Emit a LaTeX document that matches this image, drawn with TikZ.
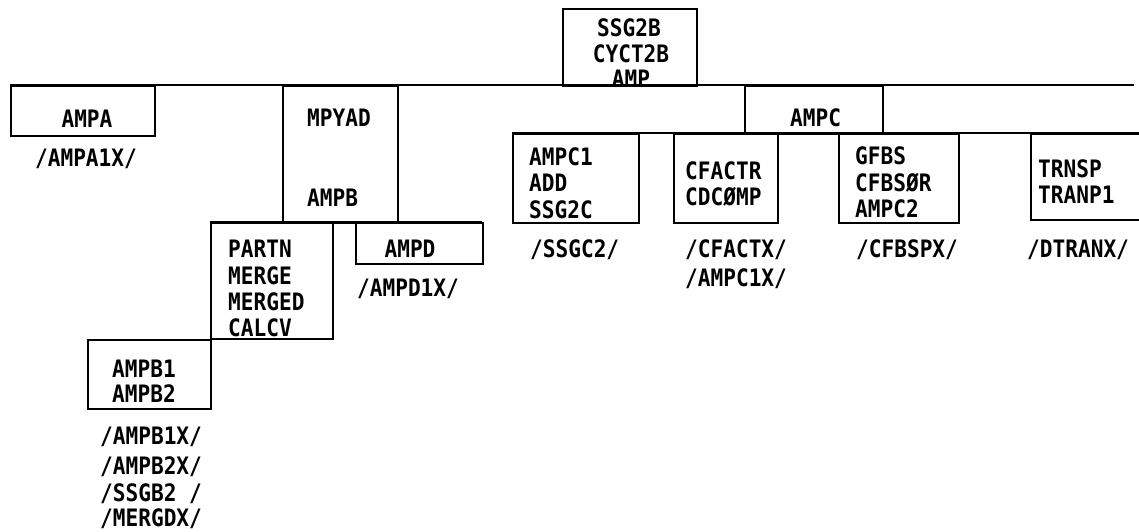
\documentclass[tikz,border=0pt]{standalone}
\usepackage{fontspec}
\setmonofont[FakeStretch=0.88]{DejaVu Sans Mono}
\begin{document}
\begin{tikzpicture}[x=1pt,y=-1pt,
  box/.style={draw, line width=2.3pt, inner sep=0pt, anchor=north west},
  bus/.style={line width=2.3pt},
  lbl/.style={inner sep=0pt, font=\ttfamily\bfseries\fontsize{24}{26}\selectfont},
  lw/.style={lbl, anchor=base west},
  lc/.style={lbl, anchor=base}]
\useasboundingbox (0,0) rectangle (1139,531);
% buses
\coordinate (busL) at (10,85);
\coordinate (busR) at (1134,85);
\draw[bus] (busL) -- (busR);
\coordinate (cbusL) at (512,133);
\coordinate (cbusR) at (1145,133);
\draw[bus] (cbusL) -- (cbusR);
\coordinate (dbusL) at (210,222);
\coordinate (dbusR) at (482,222);
\draw[bus] (dbusL) -- (dbusR);
% boxes
\node[box, minimum width=134pt, minimum height=77pt] (ssg) at (562,8) {};
\node[box, minimum width=144pt, minimum height=50pt] (ampa) at (10,85) {};
\node[box, minimum width=115pt, minimum height=137pt] (mpyad) at (282,85) {};
\node[box, minimum width=138pt, minimum height=48pt] (ampc) at (744,85) {};
\node[box, minimum width=126pt, minimum height=89pt] (ampc1) at (512,133) {};
\node[box, minimum width=104pt, minimum height=89pt] (cfactr) at (673,133) {};
\node[box, minimum width=120pt, minimum height=89pt] (gfbs) at (838,133) {};
\node[box, minimum width=120pt, minimum height=86pt] (trnsp) at (1030,133) {};
\node[box, minimum width=122pt, minimum height=116pt] (partn) at (210,222) {};
\node[box, minimum width=127pt, minimum height=41pt] (ampd) at (355,222) {};
\node[box, minimum width=123pt, minimum height=69pt] (ampb) at (87,339) {};
% texts
\node[lc] (t1) at (629,36) {SSG2B};
\node[lc] (t2) at (631,62) {CYCT2B};
\node[lc] (t3) at (631,87) {AMP};
\node[lc] (t4) at (87,127) {AMPA};
\node[lc] (t5) at (86,166) {/AMPA1X/};
\node[lw] (t6) at (307,126) {MPYAD};
\node[lw] (t7) at (307,206) {AMPB};
\node[lw] (t8) at (790,126) {AMPC};
\node[lw] (t9) at (529,165) {AMPC1};
\node[lw] (t10) at (529,191) {ADD};
\node[lw] (t11) at (529,218) {SSG2C};
\node[lw] (t12) at (530,257) {/SSGC2/};
\node[lw] (t13) at (685,179) {CFACTR};
\node[lw] (t14) at (685,205) {CDCØMP};
\node[lw] (t15) at (685,257) {/CFACTX/};
\node[lw] (t16) at (685,286) {/AMPC1X/};
\node[lw] (t17) at (855,164) {GFBS};
\node[lw] (t18) at (855,191) {CFBSØR};
\node[lw] (t19) at (855,217) {AMPC2};
\node[lw] (t20) at (856,257) {/CFBSPX/};
\node[lw] (t21) at (1038,177) {TRNSP};
\node[lw] (t22) at (1038,203) {TRANP1};
\node[lw] (t23) at (1027,257) {/DTRANX/};
\node[lw] (t24) at (228,257) {PARTN};
\node[lw] (t25) at (228,284) {MERGE};
\node[lw] (t26) at (228,310) {MERGED};
\node[lw] (t27) at (228,336) {CALCV};
\node[lc] (t28) at (410,257) {AMPD};
\node[lc] (t29) at (408,296) {/AMPD1X/};
\node[lw] (t30) at (112,377) {AMPB1};
\node[lw] (t31) at (112,402) {AMPB2};
\node[lw] (t32) at (100,444) {/AMPB1X/};
\node[lw] (t33) at (100,474) {/AMPB2X/};
\node[lw] (t34) at (100,501) {/SSGB2 /};
\node[lw] (t35) at (100,526) {/MERGDX/};
\end{tikzpicture}
\end{document}
